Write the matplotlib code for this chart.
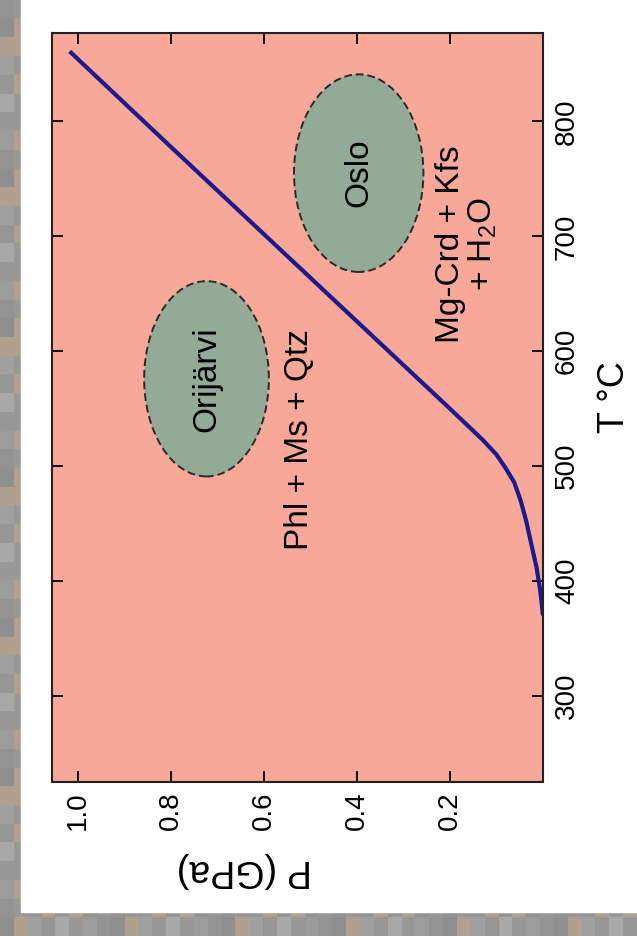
import numpy as np
import matplotlib
matplotlib.use("Agg")
import matplotlib.pyplot as plt
from matplotlib.patches import Ellipse, Rectangle

plt.rcParams['font.family'] = ['Liberation Sans', 'DejaVu Sans']
plt.rcParams['mathtext.fontset'] = 'custom'
plt.rcParams['mathtext.rm'] = 'Liberation Sans'

# reaction curve Phl + Ms + Qtz = Mg-Crd + Kfs + H2O
p_curve = [1.017, 0.80, 0.60, 0.40, 0.20, 0.13, 0.10, 0.08, 0.062, 0.048,
           0.036, 0.024, 0.014, 0.006, 0.0]
t_curve = [861, 778, 702, 626, 550, 523, 510, 498, 486, 470,
           452, 430, 412, 392, 370]

# P-T fields of the two localities: centre P, centre T, half range P, half range T
fields = ["Orijärvi", "Oslo"]
field_p = [0.723, 0.396]
field_t = [576, 755]
field_dp = [0.134, 0.139]
field_dt = [85, 86]

p_ticks = [1.0, 0.8, 0.6, 0.4, 0.2]
t_ticks = [300, 400, 500, 600, 700, 800]

W, H = 637, 936
fig = plt.figure(figsize=(W / 100, H / 100), dpi=100)

# mosaic frame behind the white panel
bg = fig.add_axes([0, 0, 1, 1])
shades = np.array([[143, 143, 143], [152, 152, 152], [160, 160, 160],
                   [147, 147, 147], [168, 168, 168], [176, 160, 142],
                   [156, 156, 156], [150, 150, 150]]) / 255
rows, cols = 50, 46
idx = np.zeros((rows, cols), dtype=int)
for i in range(rows):
    for j in range(cols):
        idx[i, j] = (3 * i + 5 * j + (i * j) % 4) % len(shades)
bg.imshow(shades[idx], extent=[0, W, 0, H], origin='lower',
          interpolation='nearest', aspect='auto')
bg.add_patch(Rectangle((21, 24), W - 21, H - 24, color='white'))
bg.set_xlim(0, W)
bg.set_ylim(0, H)
bg.axis('off')

ax = fig.add_axes([52 / W, 1 - 782 / H, (543 - 52) / W, (782 - 33) / H])
ax.set_facecolor('#f8a898')

for name, p, t, dp, dt in zip(fields, field_p, field_t, field_dp, field_dt):
    ax.add_patch(Ellipse((p, t), 2 * dp, 2 * dt, facecolor='#93aa96',
                         edgecolor='#2a2a2a', linestyle=(0, (4, 2)), lw=1.4))
    ax.text(p, t, name, rotation=90, ha='center', va='center', fontsize=24)

ax.plot(p_curve, t_curve, color='#1c1a8c', lw=3, solid_capstyle='butt')

ax.text(0.523, 523, "Phl + Ms + Qtz", rotation=90, ha='center', va='center',
        fontsize=24)
ax.text(0.163, 693, "Mg-Crd + Kfs\n+ H$_2$O", rotation=90, ha='center',
        va='center', multialignment='center', fontsize=24, linespacing=1.0)

ax.set_xlim(1.055, 0.0)
ax.set_ylim(225, 877)
ax.set_xticks(p_ticks)
ax.set_xticklabels([f"{v:.1f}" for v in p_ticks], rotation=90)
ax.set_yticks(t_ticks)
ax.set_yticklabels([str(v) for v in t_ticks], rotation=90, va='center')
ax.yaxis.tick_right()
ax.tick_params(axis='both', direction='in', length=8, width=1.3,
               labelsize=20, top=True, left=True, right=True, bottom=True)
ax.tick_params(axis='x', pad=7)
ax.tick_params(axis='y', pad=8, labelleft=False, labelright=True)
for s in ax.spines.values():
    s.set_linewidth(1.5)
    s.set_color('#222222')

fig.text(244 / W, 1 - 870 / H, "P (GPa)", rotation=180, ha='center',
         va='center', fontsize=27)
fig.text(615 / W, 1 - 397 / H, "T °C", rotation=90, ha='center',
         va='center', fontsize=26)

fig.savefig("out.png", dpi=100)
